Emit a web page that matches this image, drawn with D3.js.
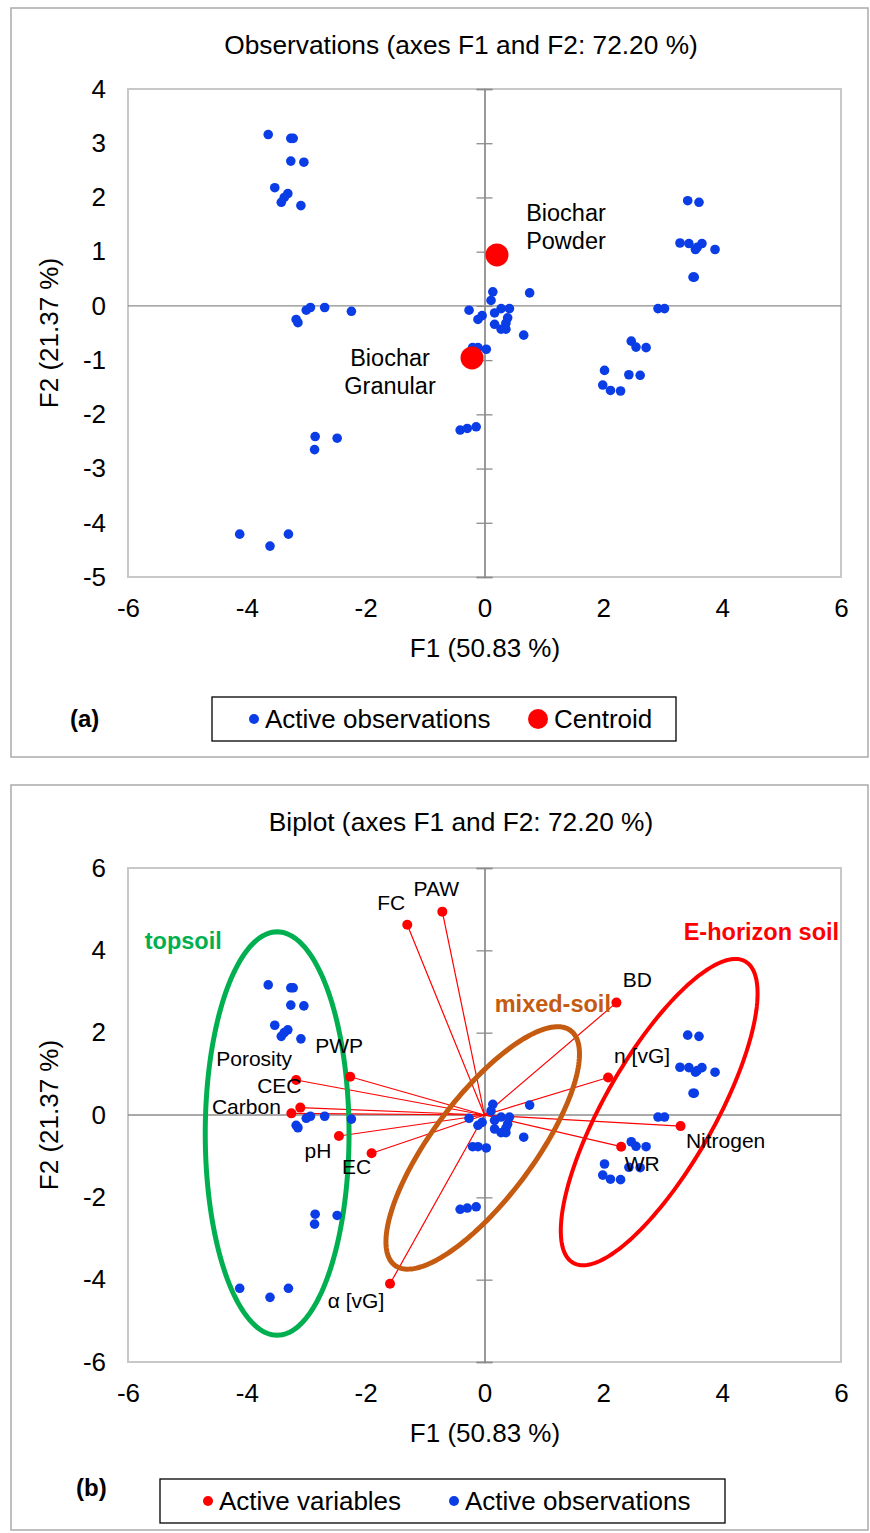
<!DOCTYPE html>
<html>
<head>
<meta charset="utf-8">
<script src="https://d3js.org/d3.v7.min.js"></script>
<style>
body { margin: 0; background: #fff; }
svg { display: block; font-family: "Liberation Sans", Arial, sans-serif; }
</style>
</head>
<body>
<svg id="chart" width="870" height="1533"></svg>
<script>
// observation scores on F1 / F2 (same in both panels)
var obsF1 = [-3.64,-3.26,-3.22,-3.26,-3.04,-3.53,-3.31,-3.37,-3.42,-3.09,
             -2.93,-3.0,-2.69,-2.24,-3.17,-3.14,
             -4.12,-3.61,-3.30,-2.85,-2.86,-2.48,
             0.14,0.11,0.76,-0.26,-0.04,-0.11,0.17,0.28,0.42,0.39,0.36,0.17,0.28,0.36,0.66,
             -0.2,-0.11,0.03,-0.41,-0.29,-0.14,
             3.42,3.61,3.29,3.44,3.55,3.58,3.66,3.88,3.51,3.53,2.92,3.03,
             2.47,2.55,2.72,2.02,2.43,2.62,1.99,2.12,2.29];
var obsF2 = [3.16,3.09,3.09,2.67,2.65,2.18,2.07,2.0,1.91,1.85,
             -0.03,-0.08,-0.03,-0.1,-0.25,-0.31,
             -4.21,-4.43,-4.21,-2.41,-2.65,-2.44,
             0.26,0.10,0.24,-0.08,-0.18,-0.25,-0.13,-0.05,-0.05,-0.22,-0.32,-0.34,-0.43,-0.43,-0.54,
             -0.77,-0.77,-0.8,-2.29,-2.26,-2.23,
             1.94,1.91,1.16,1.15,1.04,1.08,1.15,1.04,0.53,0.53,-0.05,-0.05,
             -0.65,-0.76,-0.77,-1.19,-1.27,-1.28,-1.46,-1.56,-1.57];

var centroidNames = [["Biochar", "Powder"], ["Biochar", "Granular"]];
var centroidF1 = [0.21, -0.21];
var centroidF2 = [0.94, -0.96];

// active variables (biplot)
var varNames = ["FC","PAW","PWP","Porosity","CEC","Carbon","pH","EC","α [vG]","BD","n [vG]","Nitrogen","WR"];
var varF1 = [-1.30,-0.71,-2.26,-3.17,-3.10,-3.25,-2.45,-1.90,-1.59,2.22,2.08,3.30,2.30];
var varF2 = [4.62,4.94,0.93,0.85,0.18,0.04,-0.51,-0.93,-4.10,2.73,0.91,-0.27,-0.77];

// soil groups: label position and ellipse (centre + two half-axis vectors)
var groupNames = ["topsoil", "mixed-soil", "E-horizon soil"];
var groupLabelF1 = [-5.07, 1.15, 4.66];
var groupLabelF2 = [4.23, 2.70, 4.45];
var ellCx = [-3.49, -0.03, 2.94];
var ellCy = [-0.45, -0.80, 0.07];
var ellU = [[0, 4.90], [1.48, 2.85], [1.45, 3.66]];
var ellV = [[1.21, 0], [0.68, -0.74], [0.80, -0.67]];

var xTicks = [-6, -4, -2, 0, 2, 4, 6];
var yTicksA = [-5, -4, -3, -2, -1, 0, 1, 2, 3, 4];
var yTicksB = [-6, -4, -2, 0, 2, 4, 6];

// label offsets in px (layout only)
var varLabelOff = {"FC":[-16,-22],"PAW":[-6,-23],"PWP":[-11,-31],"Porosity":[-42,-21],"CEC":[-21,-22],
  "Carbon":[-45,-6],"pH":[-21,15],"EC":[-15,14],"α [vG]":[-34,17],"BD":[21,-23],"n [vG]":[34,-22],
  "Nitrogen":[45,15],"WR":[21,17]};
var groupColors = ["#00b050", "#c55a11", "#ff0000"];
var groupWidths = [5, 5, 4];
var blue = "#0a3de6", red = "#ff0000";

var svg = d3.select("#chart");
var plain = function(d) { return String(d); }; // keep hyphen minus like the original

function panel(o) {
  var x = d3.scaleLinear().domain([-6, 6]).range([128, 841]);
  var y = d3.scaleLinear().domain(o.yDomain).range([o.bottom, o.top]);
  var g = svg.append("g");

  g.append("rect").attr("x", o.frame[0]).attr("y", o.frame[1])
    .attr("width", o.frame[2]).attr("height", o.frame[3])
    .attr("fill", "none").attr("stroke", "#ababab").attr("stroke-width", 1.5);

  g.append("text").attr("x", 461).attr("y", o.titleY).attr("text-anchor", "middle")
    .attr("font-size", 26.3).text(o.title);

  g.append("rect").attr("x", 128).attr("y", o.top).attr("width", 713).attr("height", o.bottom - o.top)
    .attr("fill", "none").attr("stroke", "#c8c8c8").attr("stroke-width", 2);

  // zero lines
  g.append("line").attr("x1", 128).attr("x2", 841).attr("y1", y(0)).attr("y2", y(0))
    .attr("stroke", "#8c8c8c").attr("stroke-width", 1.3);
  [d3.axisLeft(y), d3.axisRight(y)].forEach(function(ax) {
    g.append("g").attr("transform", "translate(" + x(0) + ",0)")
      .call(ax.tickValues(o.yTicks).tickSize(8).tickFormat(""))
      .call(function(s) {
        s.select(".domain").attr("stroke", "#8c8c8c").attr("stroke-width", 1.3);
        s.selectAll(".tick line").attr("stroke", "#8c8c8c").attr("stroke-width", 1.3);
      });
  });

  // tick labels
  g.append("g").attr("transform", "translate(0," + o.bottom + ")")
    .call(d3.axisBottom(x).tickValues(xTicks).tickFormat(plain).tickSize(0).tickPadding(22))
    .call(function(s) {
      s.select(".domain").remove();
      s.selectAll("text").attr("font-size", 26).attr("font-family", null).attr("fill", "#000");
    });
  g.append("g").attr("transform", "translate(128,0)")
    .call(d3.axisLeft(y).tickValues(o.yTicks).tickFormat(plain).tickSize(0).tickPadding(22))
    .call(function(s) {
      s.select(".domain").remove();
      s.selectAll("text").attr("font-size", 26).attr("font-family", null).attr("fill", "#000");
    });

  g.append("text").attr("x", 485).attr("y", o.bottom + 80).attr("text-anchor", "middle")
    .attr("font-size", 26).text("F1 (50.83 %)");
  g.append("text").attr("transform", "translate(58," + ((o.top + o.bottom) / 2) + ") rotate(-90)")
    .attr("text-anchor", "middle").attr("font-size", 26).text("F2 (21.37 %)");

  // legend
  g.append("rect").attr("x", o.legend[0]).attr("y", o.legend[1]).attr("width", o.legend[2])
    .attr("height", o.legend[3]).attr("fill", "#fff").attr("stroke", "#000").attr("stroke-width", 1.3);
  o.legendItems.forEach(function(it) {
    g.append("circle").attr("cx", it.x).attr("cy", o.legend[1] + o.legend[3] / 2)
      .attr("r", it.r).attr("fill", it.c);
    g.append("text").attr("x", it.x + it.r + 6).attr("y", o.legend[1] + o.legend[3] / 2 + 9)
      .attr("font-size", 26).text(it.t);
  });
  g.append("text").attr("x", o.tag[0]).attr("y", o.tag[1]).attr("font-size", 24)
    .attr("font-weight", "bold").text(o.tagText);

  return {g: g, x: x, y: y};
}

// ---- (a) observations ----
var a = panel({
  yDomain: [-5, 4], top: 89, bottom: 577, yTicks: yTicksA,
  frame: [11, 8, 857, 749], titleY: 54,
  title: "Observations (axes F1 and F2: 72.20 %)",
  legend: [212, 697, 464, 44],
  legendItems: [{x: 254, r: 5, c: blue, t: "Active observations"},
                {x: 538, r: 10, c: red, t: "Centroid"}],
  tag: [70, 727], tagText: "(a)"
});

a.g.append("g").selectAll("circle").data(obsF1).join("circle")
  .attr("cx", function(d) { return a.x(d); })
  .attr("cy", function(d, i) { return a.y(obsF2[i]); })
  .attr("r", 4.8).attr("fill", blue);

a.g.append("g").selectAll("circle").data(centroidF1).join("circle")
  .attr("cx", function(d) { return a.x(d); })
  .attr("cy", function(d, i) { return a.y(centroidF2[i]); })
  .attr("r", 11.5).attr("fill", red);

var centroidOff = [[69, -34], [-82, 8]];
centroidNames.forEach(function(n, i) {
  var t = a.g.append("text").attr("text-anchor", "middle").attr("font-size", 23.5)
    .attr("x", a.x(centroidF1[i]) + centroidOff[i][0])
    .attr("y", a.y(centroidF2[i]) + centroidOff[i][1]);
  n.forEach(function(line, k) {
    t.append("tspan").attr("x", a.x(centroidF1[i]) + centroidOff[i][0]).attr("dy", k ? 28 : 0).text(line);
  });
});

// ---- (b) biplot ----
var b = panel({
  yDomain: [-6, 6], top: 868, bottom: 1362, yTicks: yTicksB,
  frame: [11, 785, 857, 745], titleY: 831,
  title: "Biplot (axes F1 and F2: 72.20 %)",
  legend: [160, 1479, 565, 44],
  legendItems: [{x: 208, r: 5, c: red, t: "Active variables"},
                {x: 454, r: 5, c: blue, t: "Active observations"}],
  tag: [76, 1496], tagText: "(b)"
});

b.g.append("g").selectAll("line").data(varF1).join("line")
  .attr("x1", b.x(0)).attr("y1", b.y(0))
  .attr("x2", function(d) { return b.x(d); })
  .attr("y2", function(d, i) { return b.y(varF2[i]); })
  .attr("stroke", red).attr("stroke-width", 1.2);

var ell = d3.line().curve(d3.curveLinearClosed);
groupNames.forEach(function(n, i) {
  var pts = d3.range(0, 2 * Math.PI, Math.PI / 90).map(function(t) {
    var fx = ellCx[i] + Math.cos(t) * ellU[i][0] + Math.sin(t) * ellV[i][0];
    var fy = ellCy[i] + Math.cos(t) * ellU[i][1] + Math.sin(t) * ellV[i][1];
    return [b.x(fx), b.y(fy)];
  });
  b.g.append("path").attr("d", ell(pts)).attr("fill", "none")
    .attr("stroke", groupColors[i]).attr("stroke-width", groupWidths[i]);
  b.g.append("text").attr("x", b.x(groupLabelF1[i])).attr("y", b.y(groupLabelF2[i]) + 8)
    .attr("text-anchor", "middle").attr("font-size", 23.5).attr("font-weight", "bold")
    .attr("fill", groupColors[i]).text(n);
});

b.g.append("g").selectAll("circle").data(obsF1).join("circle")
  .attr("cx", function(d) { return b.x(d); })
  .attr("cy", function(d, i) { return b.y(obsF2[i]); })
  .attr("r", 4.8).attr("fill", blue);

b.g.append("g").selectAll("circle").data(varF1).join("circle")
  .attr("cx", function(d) { return b.x(d); })
  .attr("cy", function(d, i) { return b.y(varF2[i]); })
  .attr("r", 5).attr("fill", red);

b.g.append("g").selectAll("text").data(varNames).join("text")
  .attr("x", function(d, i) { return b.x(varF1[i]) + varLabelOff[d][0]; })
  .attr("y", function(d, i) { return b.y(varF2[i]) + varLabelOff[d][1] + 7; })
  .attr("text-anchor", "middle").attr("font-size", 21).text(function(d) { return d; });
</script>
</body>
</html>
